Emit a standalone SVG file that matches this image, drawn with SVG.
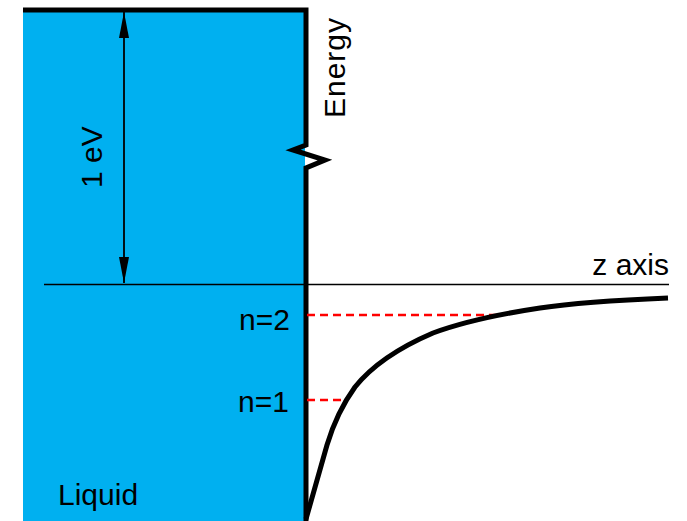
<svg xmlns="http://www.w3.org/2000/svg" width="687" height="521" viewBox="0 0 687 521">
<defs>
<marker id="ah" markerWidth="26" markerHeight="10" viewBox="0 0 26 10" refX="26" refY="5" markerUnits="userSpaceOnUse" orient="auto-start-reverse">
<path d="M0,0 L26,5 L0,10 Z" fill="#000"/>
</marker>
<style>
.t{font-family:"Liberation Sans",Arial,sans-serif;font-size:30px;fill:#000}
.dash{stroke:#FF0000;stroke-width:2.5;stroke-dasharray:8,5;fill:none}
</style>
</defs>
<rect width="687" height="521" fill="#fff"/>
<g id="liquid">
<rect x="23" y="10" width="282" height="511" fill="#00B0F0"/>
<path d="M23,10 L306,10 L306,145 L293,150 L325,160 L306,168 L306,521" fill="none" stroke="#000" stroke-width="5" stroke-linejoin="miter"/>
<text class="t" x="58" y="505">Liquid</text>
</g>
<g id="axis">
<line x1="44" y1="284.5" x2="669" y2="284.5" stroke="#000" stroke-width="1.5"/>
<text class="t" x="669" y="275" text-anchor="end">z axis</text>
<text class="t" transform="translate(345,118) rotate(-90)" textLength="100">Energy</text>
</g>
<g id="scale">
<line x1="124" y1="12" x2="124" y2="283" stroke="#000" stroke-width="1.8" marker-start="url(#ah)" marker-end="url(#ah)"/>
<text class="t" transform="translate(102,188) rotate(-90)">1 eV</text>
</g>
<g id="levels">
<line class="dash" x1="307" y1="315" x2="500" y2="315"/>
<line class="dash" x1="307" y1="400" x2="344" y2="400"/>
<text class="t" x="290" y="330" text-anchor="end">n=2</text>
<text class="t" x="289" y="412" text-anchor="end">n=1</text>
</g>
<g id="potential">
<path d="M306,519 L327,445 C333,425 342,405 355,387 C375,362 405,345 433,333 C460,323 500,314 540,308 C580,302 620,300 668,298" fill="none" stroke="#000" stroke-width="5"/>
</g>
</svg>
